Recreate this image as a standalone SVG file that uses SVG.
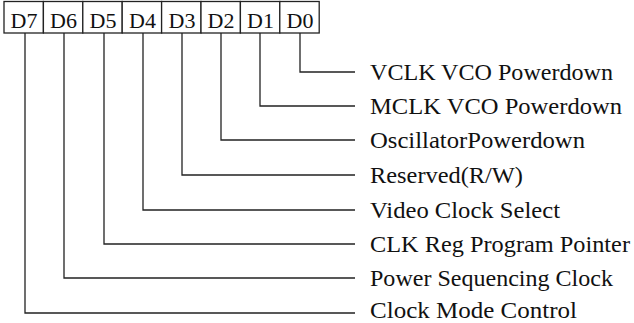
<svg xmlns="http://www.w3.org/2000/svg" width="634" height="323" viewBox="0 0 634 323">
<style>
.c{fill:#fff;stroke:#222;stroke-width:1.3}
.b{font-family:"Liberation Serif","Times New Roman",serif;font-size:22px;fill:#111;text-anchor:middle}
.l{font-family:"Liberation Serif","Times New Roman",serif;font-size:23px;fill:#111}
.w{fill:none;stroke:#222;stroke-width:1.3}
</style>
<rect width="634" height="323" fill="#fff"/>
<g id="register">
<g id="D7"><rect class="c" x="4" y="1.5" width="39.4" height="31.5"/><text class="b" x="24" y="28">D7</text></g>
<g id="D6"><rect class="c" x="43.4" y="1.5" width="39.4" height="31.5"/><text class="b" x="63.5" y="28">D6</text></g>
<g id="D5"><rect class="c" x="82.8" y="1.5" width="39.4" height="31.5"/><text class="b" x="103" y="28">D5</text></g>
<g id="D4"><rect class="c" x="122.2" y="1.5" width="39.4" height="31.5"/><text class="b" x="142.5" y="28">D4</text></g>
<g id="D3"><rect class="c" x="161.6" y="1.5" width="39.4" height="31.5"/><text class="b" x="182" y="28">D3</text></g>
<g id="D2"><rect class="c" x="201" y="1.5" width="39.4" height="31.5"/><text class="b" x="221" y="28">D2</text></g>
<g id="D1"><rect class="c" x="240.4" y="1.5" width="39.4" height="31.5"/><text class="b" x="260.5" y="28">D1</text></g>
<g id="D0"><rect class="c" x="279.8" y="1.5" width="39.4" height="31.5"/><text class="b" x="300" y="28">D0</text></g>
</g>
<g id="connectors">
<path class="w" d="M300,33V72H355"/>
<path class="w" d="M260,33V106H355"/>
<path class="w" d="M221,33V140H355"/>
<path class="w" d="M182,33V175H355"/>
<path class="w" d="M143,33V210H355"/>
<path class="w" d="M104,33V244H355"/>
<path class="w" d="M64,33V278H355"/>
<path class="w" d="M25,33V313H355"/>
</g>
<g id="labels">
<g id="label-D0"><text class="l" x="370" y="80" textLength="243" lengthAdjust="spacingAndGlyphs">VCLK VCO Powerdown</text></g>
<g id="label-D1"><text class="l" x="370" y="114" textLength="252" lengthAdjust="spacingAndGlyphs">MCLK VCO Powerdown</text></g>
<g id="label-D2"><text class="l" x="370" y="148" textLength="215" lengthAdjust="spacingAndGlyphs">OscillatorPowerdown</text></g>
<g id="label-D3"><text class="l" x="370" y="183" textLength="153" lengthAdjust="spacingAndGlyphs">Reserved(R/W)</text></g>
<g id="label-D4"><text class="l" x="370" y="218" textLength="190" lengthAdjust="spacingAndGlyphs">Video Clock Select</text></g>
<g id="label-D5"><text class="l" x="370" y="252" textLength="260" lengthAdjust="spacingAndGlyphs">CLK Reg Program Pointer</text></g>
<g id="label-D6"><text class="l" x="370" y="286" textLength="243" lengthAdjust="spacingAndGlyphs">Power Sequencing Clock</text></g>
<g id="label-D7"><text class="l" x="370" y="317.5" textLength="207" lengthAdjust="spacingAndGlyphs">Clock Mode Control</text></g>
</g>
</svg>
